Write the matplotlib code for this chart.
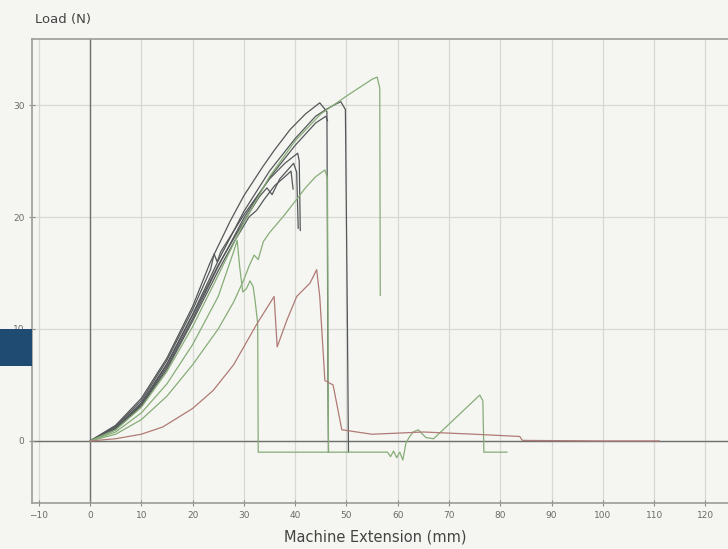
import matplotlib
matplotlib.use("Agg")
import matplotlib.pyplot as plt
from matplotlib.patches import Rectangle

# Load-extension traces (extension in mm, load in N)
d1_x = [0, 5, 10, 15, 20, 23.4, 27.3, 30, 33.7, 36, 39, 42, 44.8, 46.2, 46.4, 46.5]
d1_y = [0, 1.4, 3.8, 7.4, 12.0, 15.9, 19.6, 21.9, 24.5, 26.0, 27.8, 29.2, 30.2, 29.4, 5.0, -1.0]

d2_x = [0, 5, 10, 15, 20, 25, 30, 35, 40, 44, 46, 48, 48.9, 49.8, 50.2, 50.4]
d2_y = [0, 1.2, 3.4, 6.9, 11.3, 16.1, 20.5, 24.1, 27.0, 29.0, 29.6, 30.1, 30.3, 29.6, 10.0, -1.0]

d3_x = [0, 5, 10, 15, 20, 25, 30, 35, 40, 44, 46.0, 46.3]
d3_y = [0, 1.1, 3.2, 6.6, 10.9, 15.6, 19.9, 23.5, 26.4, 28.4, 29.0, 28.6]

d4_x = [0, 5, 10, 15, 20, 23.5, 24.2, 24.8, 25.5, 30, 35, 38, 40.5, 40.8, 41.0]
d4_y = [0, 1.3, 3.6, 7.2, 11.7, 15.3, 16.7, 16.0, 16.9, 20.2, 23.4, 24.8, 25.7, 25.0, 18.8]

d5_x = [0, 5, 10, 15, 20, 25, 30, 33, 34.5, 35.5, 37, 39.7, 40.3, 40.6]
d5_y = [0, 1.1, 3.3, 6.8, 11.2, 15.7, 19.6, 21.8, 22.6, 22.0, 23.4, 24.8, 24.0, 19.0]

d6_x = [0, 5, 10, 15, 20, 25, 28, 31, 32.5, 34, 36, 38, 39.2, 39.6]
d6_y = [0, 1.0, 3.1, 6.4, 10.7, 15.2, 17.7, 20.0, 20.6, 21.6, 22.8, 23.6, 24.1, 22.5]

g1_x = [0, 5, 10, 15, 20, 25, 30, 35, 40, 45, 50, 53, 55, 56, 56.5, 56.6]
g1_y = [0, 1.0, 3.0, 6.2, 10.2, 14.8, 19.5, 23.6, 26.8, 29.2, 30.8, 31.7, 32.3, 32.5, 31.5, 13.0]

g2_x = [0, 5, 10, 15, 20, 25, 28, 30, 31, 32, 32.8, 33.8, 35, 37.6, 40, 42, 44, 45.2, 45.8, 46.3, 46.5]
g2_y = [0, 0.6, 1.9, 4.0, 6.8, 10.0, 12.4, 14.4, 15.6, 16.6, 16.2, 17.8, 18.6, 20.0, 21.4, 22.6, 23.6, 24.0, 24.2, 23.5, -1.0]

g3_x = [0, 5, 10, 15, 20, 25, 28, 28.7, 29.2, 29.8, 30.5, 31.2, 31.8, 32.2, 32.7, 32.8,
        58, 58.6, 59.2, 59.8, 60.4, 61.0, 61.6, 62.2, 63, 64, 65.5, 67, 70, 73, 76, 76.6, 76.8, 81.3]
g3_y = [0, 0.8, 2.5, 5.1, 8.6, 12.9, 16.9, 17.9, 15.5, 13.3, 13.6, 14.3, 13.8, 12.5, 10.5, -1.0,
        -1.0, -1.4, -0.9, -1.5, -1.0, -1.7, -0.2, 0.3, 0.8, 1.0, 0.3, 0.2, 1.5, 2.8, 4.1, 3.6, -1.0, -1.0]

r_x = [0, 5, 10, 14.2, 20, 24, 28, 32.6, 35.9, 36.5, 38.4, 40.3, 42.9, 44.2, 44.8, 45.8, 47.4, 49.1,
       55, 65, 75, 83.8, 84.3, 100, 111]
r_y = [0, 0.2, 0.6, 1.25, 2.9, 4.5, 6.8, 10.5, 12.9, 8.4, 10.8, 12.9, 14.1, 15.3, 12.9, 5.4, 5.0, 1.0,
       0.6, 0.8, 0.6, 0.4, 0.05, 0.0, 0.0]

x_ticks = [-10, 0, 10, 20, 30, 40, 50, 60, 70, 80, 90, 100, 110, 120]
y_ticks = [0, 10, 20, 30]

bg = "#f5f6f1"
dark = "#55585a"
green = "#86ad78"
red = "#b07a76"

fig = plt.figure(figsize=(7.28, 5.49), dpi=100, facecolor=bg)
ax = fig.add_axes([0.044, 0.0838, 0.956, 0.8452], facecolor=bg)

ax.set_xlim(-11.3, 124.4)
ax.set_ylim(-5.54, 35.9)

for v in x_ticks:
    ax.axvline(v, color="#d6d8d4", lw=0.9, zorder=0)
for v in y_ticks:
    ax.axhline(v, color="#d6d8d4", lw=0.9, zorder=0)
ax.axvline(0, color="#6e7070", lw=1.0, zorder=1)
ax.axhline(0, color="#6e7070", lw=1.0, zorder=1)

for xs, ys in [(d1_x, d1_y), (d2_x, d2_y), (d3_x, d3_y), (d4_x, d4_y), (d5_x, d5_y), (d6_x, d6_y)]:
    ax.plot(xs, ys, color=dark, lw=0.9, zorder=3)
for xs, ys in [(g1_x, g1_y), (g2_x, g2_y), (g3_x, g3_y)]:
    ax.plot(xs, ys, color=green, lw=0.9, zorder=3)
ax.plot(r_x, r_y, color=red, lw=0.9, zorder=3)

ax.set_xticks(x_ticks)
ax.set_yticks(y_ticks)
ax.tick_params(axis="both", colors="#8a8a8a", labelcolor="#6a6a6a", labelsize=6.5,
               length=4, width=0.8, direction="inout")
for s in ["top", "left", "bottom"]:
    ax.spines[s].set_color("#9a9c9a")
    ax.spines[s].set_linewidth(1.2)
ax.spines["right"].set_visible(False)

fig.text(0.048, 0.965, "Load (N)", fontsize=9.5, color="#444444", ha="left", va="center")
fig.text(0.515, 0.022, "Machine Extension (mm)", fontsize=10.5, color="#444444",
         ha="center", va="center")

fig.patches.append(Rectangle((0, (549 - 366) / 549), 32 / 728, 37 / 549,
                             transform=fig.transFigure, facecolor="#1f4a72",
                             edgecolor="none", zorder=5))

fig.savefig("out.png", dpi=100, facecolor=bg)
